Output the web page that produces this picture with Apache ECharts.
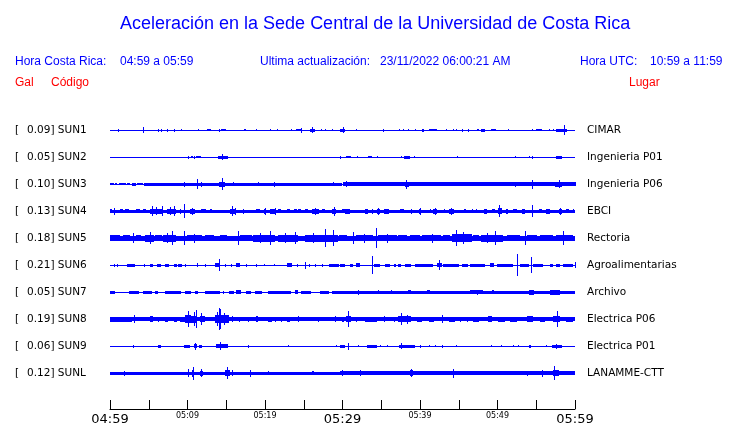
<!DOCTYPE html>
<html><head><meta charset="utf-8">
<script src="https://cdn.jsdelivr.net/npm/echarts@6/dist/echarts.min.js"></script>
<style>html,body{margin:0;padding:0;background:#fff}#c{width:740px;height:423px}</style>
</head><body><div id="c"></div>
<script>
// ---- data (time in minutes from 04:59; amplitudes are half-heights in trace units) ----
const codes = ['SUN1','SUN2','SUN3','SUN4','SUN5','SUN6','SUN7','SUN8','SUN9','SUNL'];
const galMax = ['0.09','0.05','0.10','0.13','0.18','0.21','0.05','0.19','0.06','0.12'];
const places = ['CIMAR','Ingenieria P01','Ingenieria P06','EBCI','Rectoria','Agroalimentarias','Archivo','Electrica P06','Electrica P01','LANAMME-CTT'];
const baseNoise = [0.7,0.7,0.7,1.7,2.5,0.7,0.7,2.1,0.7,1.4];
const tickTimes = [0,5,10,15,20,25,30,35,40,45,50,55,60];
const tickLabels = ['04:59','','05:09','','05:19','','05:29','','05:39','','05:49','','05:59'];
const bigTicks = ['04:59','05:29','05:59'];

// bursts: [start, end, halfAmplitude]
const sun1 = [[1.07,1.07,1.5],[4.2,4.2,3],[6.2,6.2,1.5],[6.6,6.6,1.5],[7.4,7.4,1.5],[8.2,8.2,1.5],[9.2,9.2,1],[11.3,11.3,1],[12.5,13.0,1.2],[14.0,14.0,1.5],[14.3,14.9,1.2],[17.3,17.6,1.2],[18.8,18.8,1],[20.7,20.7,1],[21.5,21.5,1],[23.3,23.3,1],[24.0,24.8,1.2],[24.6,24.6,2.5],[25.8,26.4,1.5],[26.1,26.1,3],[27.2,27.2,1],[27.7,27.7,1],[28.7,28.7,1],[29.7,30.4,1.5],[30.0,30.0,3],[31.7,31.7,1],[35.2,35.2,1.5],[37.3,37.3,1],[37.8,37.8,1],[38.5,38.5,1],[39.4,39.4,1],[40.3,40.6,1.5],[41.2,42.2,1],[43.4,43.4,1],[44.2,44.2,1],[44.7,44.7,1],[45.4,45.4,1.5],[46.2,46.2,1.5],[47.3,47.6,1],[47.9,48.4,1.5],[49.2,49.9,1.2],[51.4,51.4,1],[54.5,54.5,1],[55.0,55.8,1.2],[56.6,56.6,1],[57.2,57.2,1],[57.5,58.9,1.5],[58.6,58.6,5]];
const sun2 = [[10.0,10.0,1.5],[10.4,10.6,1],[10.9,10.9,1.5],[11.1,11.8,1.2],[13.9,15.2,1.5],[14.5,14.5,3],[29.7,29.7,1.5],[30.45,31.1,1.2],[31.9,31.9,1],[33.3,33.85,1.2],[34.5,34.5,1],[37.5,37.5,1],[37.9,38.7,1.5],[39.2,39.2,1],[44.8,44.8,1],[52.3,52.3,1],[54.1,54.1,1],[54.5,54.5,1.5],[57.5,58.3,1.5]];
const sun3 = [[0,0.5,1.2],[0.7,0.9,1.2],[1.1,2.0,1.2],[2.2,2.6,1.2],[2.8,3.3,1.3],[3.5,4.3,1.2],[4.4,30,1.4],[30,60,1.8],[9.6,9.6,2.5],[10.1,10.5,1.7],[11.2,11.2,5],[11.7,11.7,2.5],[14.0,14.8,2.3],[14.5,14.5,6],[15.9,15.9,2],[19.1,19.1,2],[21.1,21.1,2.5],[28.8,28.8,2],[30.3,30.9,2.2],[30.5,30.5,3],[33.8,33.8,2],[34.8,34.8,2],[35.8,35.8,2],[38.0,38.5,2.5],[38.2,38.2,4.5],[41.0,41.0,1.5],[52.3,52.3,2.5],[54.5,54.5,4.5],[57.4,58.3,2.5],[57.9,57.9,4]];
const sun4 = [[0,0.3,2],[0.56,0.56,3.5],[1.3,1.7,1.8],[1.9,2.4,1.8],[3.4,3.9,1.8],[4.3,4.7,1.8],[5.2,6.9,2.6],[5.4,5.4,5],[5.9,5.9,4],[6.7,6.7,5],[7.3,8.4,2.4],[7.7,7.7,4],[8.2,8.2,5],[9.0,9.0,2.5],[9.6,9.6,7],[10.3,11.0,2.3],[10.6,10.6,3.5],[11.8,12.5,1.8],[12.9,13.1,1.8],[15.5,16.3,2.3],[15.7,15.7,5],[16.1,16.1,3.5],[17.2,17.2,2.5],[18.9,19.4,2],[19.9,20.2,2.3],[20.0,20.0,3.5],[20.6,21.3,2.3],[21.3,21.3,3.5],[21.7,22.1,2],[22.8,23.2,2],[23.7,24.1,2],[24.3,24.7,2],[25.2,25.6,1.8],[26.0,26.9,2.3],[26.4,26.4,3.5],[27.3,27.7,2],[28.6,29.1,2.5],[28.9,28.9,4.5],[29.9,30.3,1.8],[30.3,31.0,2.3],[32.9,33.3,2.3],[33.8,33.8,2.5],[34.4,34.8,2.5],[34.6,34.6,3.5],[35.3,35.9,2.3],[37.4,37.9,2],[38.8,38.8,2.5],[39.9,40.2,2.5],[40.0,40.0,3.5],[41.3,41.3,2],[41.7,42.2,2.5],[41.9,41.9,3.5],[43.1,43.1,2],[43.7,44.3,2.5],[44.0,44.0,3.5],[45.7,46.0,2],[46.7,46.7,2],[47.2,47.2,2],[48.2,48.6,2.3],[49.3,49.7,2],[50.0,50.5,2.8],[50.2,50.2,6],[51.1,51.4,2.3],[52.0,52.5,2],[53.1,53.5,2.3],[54.5,54.5,6],[55.3,55.7,2],[56.3,56.8,2.3],[57.9,58.3,2.5],[58.1,58.1,3.5],[58.9,59.3,2],[59.8,59.8,2]];
const sun5 = [[0,1.3,2.8],[1.7,2.6,3],[3.0,3.0,5],[3.4,4.1,2.8],[4.5,5.6,3.4],[5.2,5.2,6],[5.8,6.7,3.2],[6.9,8.6,3.6],[7.4,7.4,5],[8.0,8.0,7],[9.6,9.6,7],[9.9,11.8,3],[10.8,10.8,4.5],[12.3,13.5,2.8],[14.2,15.1,2.8],[16.5,16.5,7],[16.8,18.3,2.8],[18.5,21.3,3.6],[19.3,19.3,5],[20.6,20.6,7],[21.7,24.3,3.4],[22.6,22.6,5],[23.9,23.9,6],[25.2,29.5,3.6],[26.2,26.2,5],[27.7,27.7,9],[28.8,28.8,8],[29.5,30.5,3.2],[31.4,31.4,6],[31.8,34.0,3.2],[32.8,32.8,4.5],[34.3,34.3,10],[34.6,37.0,3.2],[35.8,35.8,4.5],[37.2,38.3,3],[38.7,40.0,2.8],[40.2,42.6,3],[41.5,41.5,4.5],[43.0,43.9,2.8],[44.1,46.7,3.8],[44.7,44.7,8],[45.6,45.6,6],[46.9,47.7,3],[47.9,50.8,3.6],[48.6,48.6,5],[49.7,49.7,7],[51.2,52.9,3.2],[53.6,53.6,7],[53.8,55.1,3.2],[55.5,57.2,3],[57.6,59.8,3.2],[58.4,58.4,7]];
const sun6 = [[0.56,0.56,1.5],[0.95,0.95,1.5],[2.2,3.2,1.3],[4.4,4.4,1.5],[5.2,5.6,1.3],[6.0,6.5,1.3],[7.1,7.6,1.3],[8.2,8.6,1.3],[8.8,9.3,1.3],[9.7,9.7,1.5],[11.2,11.2,2],[12.3,12.3,1.5],[13.5,14.2,2],[14.0,14.0,6],[14.8,14.8,1.5],[15.6,15.6,1.5],[16.3,16.8,2],[17.6,17.6,1.5],[18.9,18.9,1.5],[19.9,19.9,1],[21.1,21.1,1],[22.8,23.4,2],[24.1,24.1,1.5],[25.2,25.2,3.5],[25.7,25.7,1.5],[26.5,26.5,1.5],[27.3,27.3,1.5],[28.2,29.5,1.3],[29.7,30.3,1.3],[31.0,31.4,1.3],[31.8,32.3,2],[33.85,33.85,9],[34.0,34.8,1.3],[35.5,36.1,1.3],[36.6,36.8,1.3],[37.2,37.6,1.3],[38.1,38.9,1.3],[39.4,41.7,1.3],[42.2,42.8,2],[42.5,42.5,5],[43.0,45.0,1.3],[45.4,46.2,1.3],[46.5,48.4,1.3],[49.0,49.5,1.8],[49.9,52.0,1.3],[52.5,52.5,11],[52.9,54.0,1.6],[54.3,54.3,8],[54.6,55.9,1.6],[56.8,57.2,1.3],[57.6,58.1,1.3],[58.5,59.8,1.3],[60,60,3]];
const sun7 = [[0,0.6,1.3],[2.4,3.7,1.3],[4.3,5.4,1.3],[5.8,6.2,1.7],[7.1,9.2,1.3],[9.7,10.5,1.3],[11.0,11.4,1.3],[12.3,14.2,1.3],[14.6,14.6,1.5],[15.3,15.9,1.3],[16.3,17.0,2],[17.6,18.3,1.3],[18.7,19.6,1.7],[20.4,23.4,1.3],[23.9,24.3,2],[24.7,26.0,1.3],[27.1,28.2,1.7],[28.6,30.3,1.3],[29.7,60,1.5],[32.05,32.05,2.5],[34.6,34.6,2],[36.3,36.3,2],[38.5,38.9,2.2],[40.9,41.3,2.2],[46.5,48.2,2],[47.3,47.3,2.5],[49.3,49.5,2.2],[54.0,54.6,2.5],[56.8,58.1,2.5]];
const sun8 = [[0,2.8,2.5],[3.1,3.1,4],[5.2,5.6,3],[6.2,6.2,2.5],[7.1,7.5,2.5],[8.2,8.6,2.5],[9.0,9.7,2.6],[9.7,10.5,4],[10.0,10.0,8],[10.5,11.2,3.6],[10.9,10.9,7],[11.1,11.1,9],[11.6,12.3,3],[11.7,11.7,6],[13.5,15.3,4],[13.8,13.8,7],[14.0,14.0,11],[14.2,14.2,10],[14.7,14.7,6],[15.7,15.7,3],[16.6,16.6,2.5],[17.8,17.8,2.5],[18.9,19.1,3],[20.4,20.9,2.6],[21.3,21.3,2.5],[22.0,22.0,2.5],[22.8,23.2,2.6],[24.3,24.3,3],[26.9,26.9,2.5],[29.0,29.0,3],[29.9,30.1,2.6],[30.5,31.2,3.2],[30.75,30.75,8],[31.8,31.8,2.5],[32.9,34.4,2.6],[35.3,35.3,3],[36.6,36.6,2.5],[37.2,38.9,3.2],[37.6,37.6,6],[38.3,38.3,4.5],[39.6,40.2,2.6],[41.1,41.7,2.5],[42.8,42.8,4],[43.7,44.5,2.6],[45.2,45.2,2.5],[46.0,46.0,2.5],[46.9,47.7,2.6],[48.8,49.3,3.2],[50.1,51.0,2.6],[51.6,52.5,2.6],[53.8,54.6,3],[55.5,56.1,2.6],[57.2,58.1,3.2],[57.7,57.7,8],[58.9,59.8,2.6]];
const sun9 = [[3.0,3.0,1.5],[6.2,6.6,1.7],[9.5,10.3,1.6],[10.8,11.2,2],[11.0,11.0,3.5],[11.5,11.9,1.3],[13.7,15.3,2],[14.2,14.2,4],[17.8,17.8,1.5],[23.0,23.0,1],[29.2,29.2,1],[29.7,30.3,1.3],[30.75,30.75,3.5],[32.0,32.0,1],[33.1,34.4,1.3],[34.8,34.8,1],[35.7,35.7,1],[37.3,39.4,1.6],[37.6,37.6,3],[40.0,40.0,1.5],[41.1,41.1,1],[41.9,41.9,1],[42.8,42.8,1.5],[44.7,44.7,1],[49.1,49.1,1],[50.5,50.5,1],[52.0,52.0,1],[52.7,52.7,1],[54.1,54.4,1.3],[56.3,56.3,1],[57.0,58.3,1.6],[57.6,57.6,2.5]];
const sunl = [[0,0.6,1.5],[1.0,1.6,1.5],[1.85,1.85,2.5],[2.2,3.0,1.5],[3.5,4.3,1.5],[4.8,5.6,1.5],[6.0,7.8,1.5],[29.7,60,1.9],[10.0,10.0,4],[10.6,10.9,3.5],[10.75,10.75,6.5],[11.6,12.0,2.5],[11.8,11.8,4],[14.8,15.4,3],[15.1,15.1,6],[15.7,15.7,3],[18.1,18.1,3.5],[20.4,20.4,2],[26.0,26.2,2],[29.9,29.9,3],[29.7,30.7,2.2],[32.3,32.3,3],[38.7,39.1,3],[38.9,38.9,4],[44.3,44.3,4.5],[46.1,46.1,2],[53.8,53.8,2.5],[55.8,55.8,3.5],[57.1,57.9,3],[57.3,57.3,7]];
const traces = [sun1,sun2,sun3,sun4,sun5,sun6,sun7,sun8,sun9,sunl];

// ---- layout constants ----
const ROW = 27;
const BLUE = '#0000ff';
const tStart = tickTimes[0], tEnd = tickTimes[tickTimes.length-1];

const chart = echarts.init(document.getElementById('c'), null, {renderer:'canvas'});

function traceItems() {
  const out = [];
  traces.forEach((bursts, r) => {
    out.push([tStart, tEnd, baseNoise[r], r]);
    bursts.forEach(b => out.push([b[0], b[1], b[2], r]));
  });
  return out;
}

function renderTrace(params, api) {
  const t0 = api.value(0), t1 = api.value(1), a = api.value(2), r = api.value(3);
  const c = ROW * r + ROW / 2;
  const p0 = api.coord([t0, c - a]);
  const p1 = api.coord([t1, c + a]);
  let x = Math.round(Math.min(p0[0], p1[0]));
  let w = Math.max(1, Math.round(Math.abs(p1[0] - p0[0])));
  if (x + w > 576) w = Math.max(1, 576 - x);
  const cy = (p0[1] + p1[1]) / 2;
  const h = Math.max(1, Math.round(Math.abs(p1[1] - p0[1])));
  const y = Math.round(cy - h / 2);
  return {type:'rect', shape:{x:x, y:y, width:w, height:h}, style:{fill:BLUE}};
}

function renderLabel(params, api) {
  const r = api.value(0);
  const p = api.coord([tStart, ROW * r + ROW / 2]);
  const font = '10.5px "DejaVu Sans"';
  const y = p[1];
  return {type:'group', children:[
    {type:'text', style:{x:15, y:y, text:'[', font:font, fill:'#000', verticalAlign:'middle'}},
    {type:'text', style:{x:27, y:y, text:galMax[r] + '] ' + codes[r], font:font, fill:'#000', verticalAlign:'middle'}},
    {type:'text', style:{x:587, y:y, text:places[r], font:font, fill:'#000', verticalAlign:'middle'}}
  ]};
}

const hdr = '12px "Liberation Sans"';
chart.setOption({
  animation:false,
  backgroundColor:'#fff',
  grid:{left:110, right:165, top:116.5, bottom:14, containLabel:false, outerBoundsMode:'none'},
  xAxis:{type:'value', position:'bottom', min:tStart, max:tEnd, interval:5,
    axisLine:{show:true, onZero:false, lineStyle:{color:'#000', width:1}},
    axisTick:{show:true, inside:true, length:9, lineStyle:{color:'#000'}},
    splitLine:{show:false},
    axisLabel:{show:true, margin:2, showMinLabel:true, showMaxLabel:true, hideOverlap:false,
      formatter:(v)=>{ const i = tickTimes.indexOf(v); const s = i>=0 ? tickLabels[i] : '';
        if (!s) return ''; return bigTicks.indexOf(s)>=0 ? '{b|'+s+'}' : '{s|'+s+'}'; },
      rich:{b:{fontFamily:'DejaVu Sans', fontSize:13, lineHeight:17, color:'#000'},
            s:{fontFamily:'DejaVu Sans', fontSize:8, lineHeight:10, color:'#000'}}}},
  yAxis:{type:'value', min:0, max:292.5, inverse:true, show:false},
  graphic:[
    {type:'text', left:120, top:15, style:{text:'Aceleración en la Sede Central de la Universidad de Costa Rica', font:'18px "Liberation Sans"', fill:BLUE}},
    {type:'text', left:15, top:56, style:{text:'Hora Costa Rica:', font:hdr, fill:BLUE}},
    {type:'text', left:120, top:56, style:{text:'04:59 a 05:59', font:hdr, fill:BLUE}},
    {type:'text', left:260, top:56, style:{text:'Ultima actualización:', font:hdr, fill:BLUE}},
    {type:'text', left:380, top:56, style:{text:'23/11/2022 06:00:21 AM', font:hdr, fill:BLUE}},
    {type:'text', left:580, top:56, style:{text:'Hora UTC:', font:hdr, fill:BLUE}},
    {type:'text', left:650, top:56, style:{text:'10:59 a 11:59', font:hdr, fill:BLUE}},
    {type:'text', left:15, top:77, style:{text:'Gal', font:hdr, fill:'#ff0000'}},
    {type:'text', left:51, top:77, style:{text:'Código', font:hdr, fill:'#ff0000'}},
    {type:'text', left:629, top:77, style:{text:'Lugar', font:hdr, fill:'#ff0000'}}
  ],
  series:[
    {type:'custom', renderItem:renderTrace, data:traceItems(), clip:false, silent:true},
    {type:'custom', renderItem:renderLabel, data:codes.map((c,i)=>[i]), clip:false, silent:true}
  ]
});
</script></body></html>
